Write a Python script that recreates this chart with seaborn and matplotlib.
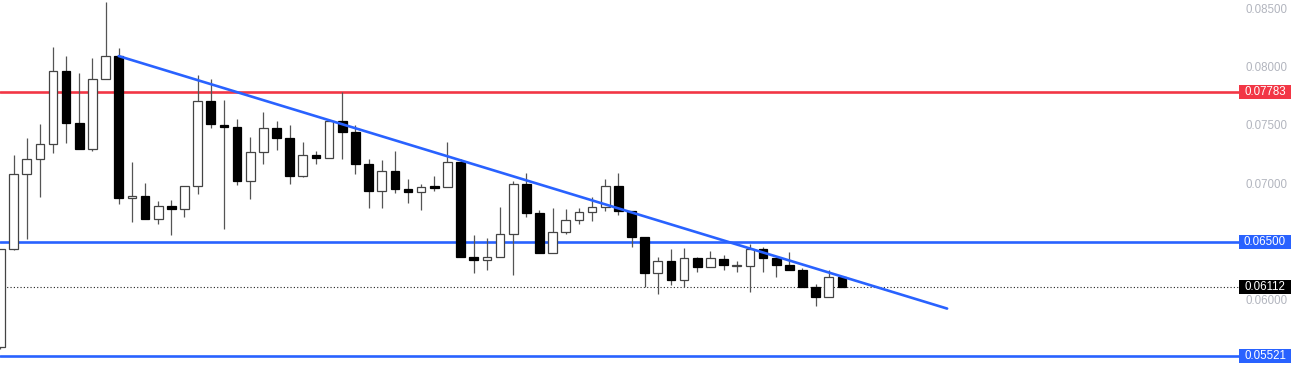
import numpy as np
import pandas as pd
import matplotlib
matplotlib.use("Agg")
import matplotlib.pyplot as plt
from matplotlib.patches import Rectangle
import seaborn as sns

# ---------------- data ----------------
opens = [0.05599, 0.06432, 0.07077, 0.07205, 0.07334, 0.07961, 0.07515, 0.07291, 0.07893, 0.08090,
         0.06870, 0.06888, 0.06690, 0.06802, 0.06776, 0.06973, 0.07704, 0.07497, 0.07480, 0.07016,
         0.07265, 0.07472, 0.07386, 0.07059, 0.07240, 0.07214, 0.07532, 0.07437, 0.07162, 0.06930,
         0.07102, 0.06948, 0.06922, 0.06965, 0.06965, 0.07180, 0.06363, 0.06338, 0.06363, 0.06561,
         0.06991, 0.06741, 0.06398, 0.06578, 0.06681, 0.06750, 0.06793, 0.06973, 0.06759, 0.06535,
         0.06226, 0.06329, 0.06174, 0.06355, 0.06278, 0.06346, 0.06286, 0.06286, 0.06432, 0.06355,
         0.06295, 0.06260, 0.06114, 0.06020, 0.06192]
highs = [0.06440, 0.07240, 0.07386, 0.07506, 0.08168, 0.08090, 0.07944, 0.08073, 0.08554, 0.08159,
         0.07180, 0.06999, 0.06845, 0.06853, 0.06973, 0.07927, 0.07893, 0.07712, 0.07549, 0.07394,
         0.07609, 0.07532, 0.07497, 0.07351, 0.07274, 0.07549, 0.07781, 0.07497, 0.07205, 0.07197,
         0.07274, 0.07034, 0.06991, 0.07059, 0.07351, 0.07205, 0.06552, 0.06527, 0.06793, 0.07016,
         0.07085, 0.06767, 0.06784, 0.06776, 0.06784, 0.06879, 0.07034, 0.07085, 0.06759, 0.06535,
         0.06363, 0.06432, 0.06441, 0.06363, 0.06415, 0.06381, 0.06329, 0.06475, 0.06449, 0.06363,
         0.06406, 0.06269, 0.06140, 0.06252, 0.06192]
lows = [0.05582, 0.06424, 0.06518, 0.06879, 0.07257, 0.07343, 0.07291, 0.07274, 0.07893, 0.06819,
        0.06664, 0.06690, 0.06647, 0.06552, 0.06707, 0.06905, 0.07472, 0.06604, 0.06982, 0.06862,
        0.07162, 0.07283, 0.06991, 0.07051, 0.07162, 0.07214, 0.07205, 0.07077, 0.06784, 0.06784,
        0.06913, 0.06827, 0.06767, 0.06930, 0.06965, 0.06363, 0.06226, 0.06260, 0.06363, 0.06209,
        0.06707, 0.06398, 0.06398, 0.06561, 0.06647, 0.06673, 0.06759, 0.06724, 0.06449, 0.06114,
        0.06054, 0.06123, 0.06106, 0.06235, 0.06278, 0.06260, 0.06235, 0.06063, 0.06235, 0.06200,
        0.06252, 0.06106, 0.05943, 0.06020, 0.06106]
closes = [0.06432, 0.07077, 0.07205, 0.07334, 0.07961, 0.07515, 0.07291, 0.07893, 0.08090, 0.06870,
          0.06888, 0.06690, 0.06802, 0.06776, 0.06973, 0.07704, 0.07506, 0.07480, 0.07016, 0.07265,
          0.07472, 0.07386, 0.07059, 0.07240, 0.07214, 0.07532, 0.07437, 0.07162, 0.06930, 0.07102,
          0.06948, 0.06922, 0.06965, 0.06960, 0.07180, 0.06363, 0.06338, 0.06363, 0.06561, 0.06991,
          0.06741, 0.06398, 0.06578, 0.06681, 0.06750, 0.06793, 0.06973, 0.06759, 0.06535, 0.06226,
          0.06329, 0.06174, 0.06355, 0.06278, 0.06355, 0.06295, 0.06286, 0.06432, 0.06355, 0.06295,
          0.06252, 0.06106, 0.06020, 0.06192, 0.06112]

resistance_level = 0.07783
support_levels = [0.06500, 0.05521]
last_price = 0.06112
trend_x = [9, 72]
trend_y = [0.08090, 0.05925]
tick_values = [0.06000, 0.07000, 0.07500, 0.08000, 0.08500]

# ---------------- style ----------------
RED = "#f23645"
BLUE = "#2962ff"
GRAY_TXT = "#b2b5be"
sns.set_theme(style="white")
plt.rcParams["font.family"] = ["Liberation Sans", "DejaVu Sans"]

df = pd.DataFrame({"o": opens, "h": highs, "l": lows, "c": closes})
df["i"] = np.arange(len(df))

W, H = 1292, 374
fig = plt.figure(figsize=(W / 100, H / 100), dpi=100)
ax_w = 1239 / W
ax = fig.add_axes([0, 0, ax_w, 1])
ax.set_facecolor("white")

ymin, ymax = 0.05364, 0.08571
ax.set_ylim(ymin, ymax)
ax.set_xlim(-0.03, 94.2)

# horizontal levels
ax.axhline(resistance_level, color=RED, lw=1.9, zorder=2)
for lv in support_levels:
    ax.axhline(lv, color=BLUE, lw=1.9, zorder=2)
ax.axhline(last_price, color="#222222", lw=0.8, linestyle=(0, (1, 2)), zorder=2)

# candles
up = df["c"] >= df["o"]
ax.vlines(df["i"], df["l"], df["h"], color="#555555", lw=0.9, zorder=3)
body_lo = np.minimum(df["o"], df["c"])
min_h = (ymax - ymin) / H * 1.5
body_h = np.maximum(np.abs(df["c"] - df["o"]), min_h)
ax.bar(df["i"][up], body_h[up], bottom=body_lo[up], width=0.66,
       color="white", edgecolor="#444444", linewidth=0.9, zorder=4)
ax.bar(df["i"][~up], body_h[~up], bottom=body_lo[~up], width=0.66,
       color="black", edgecolor="black", linewidth=0.9, zorder=4)

# trend line
sns.lineplot(x=trend_x, y=trend_y, ax=ax, color=BLUE, lw=1.9, zorder=5)

# axis styling
for s in ax.spines.values():
    s.set_visible(False)
ax.set_xticks([])
ax.yaxis.tick_right()
ax.set_yticks(tick_values)
ax.set_yticklabels([f"{v:.5f}" for v in tick_values])
ax.tick_params(axis="y", length=0, pad=5, labelsize=8.3, labelcolor=GRAY_TXT)
ax.grid(False)

# price label boxes
box_w = (1291 - 1239) / 1239
box_h = (ymax - ymin) / H * 14
trans = ax.get_yaxis_transform()
for val, col in [(resistance_level, RED), (support_levels[0], BLUE),
                 (support_levels[1], BLUE), (last_price, "black")]:
    ax.add_patch(Rectangle((1.0, val - box_h / 2), box_w, box_h, transform=trans,
                           facecolor=col, edgecolor="none", clip_on=False, zorder=10))
    ax.text(1.0 + box_w / 2, val, f"{val:.5f}", transform=trans, ha="center", va="center",
            color="white", fontsize=8.3, zorder=11, clip_on=False)

fig.savefig("out.png", dpi=100, facecolor="white")
